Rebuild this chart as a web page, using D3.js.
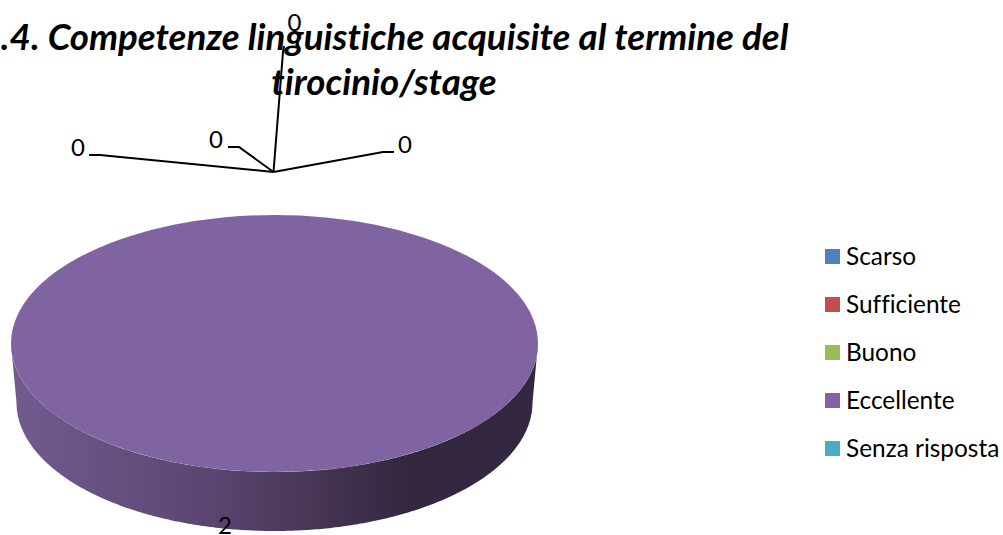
<!DOCTYPE html>
<html>
<head>
<meta charset="utf-8">
<script src="https://cdn.jsdelivr.net/npm/d3@7"></script>
<style>
  html, body { margin: 0; padding: 0; background: #fff; overflow: hidden; }
  text { font-family: Lato, "Open Sans", sans-serif; fill: #000; font-variant-ligatures: none; }
</style>
</head>
<body>
<svg id="chart"></svg>
<script>
const categories = ["Scarso", "Sufficiente", "Buono", "Eccellente", "Senza risposta"];
const values = [0, 0, 0, 2, 0];
const colors = ["#4f81bd", "#c0504d", "#9bbb59", "#8064a2", "#4bacc6"];
const titleLines = ["1.4. Competenze linguistiche acquisite al termine del", "tirocinio/stage"];

const svgObj = { width: 1003, height: 535 };
const pieObj = { cx: 274.5, cy: 343.5, rx: 263.5, ry: 128.5, depth: 59, bottomRx: 258 };

const svg = d3.select("#chart")
  .attr("width", svgObj.width)
  .attr("height", svgObj.height)
  .style("display", "block");

const defs = svg.append("defs");
const sideGradient = defs.append("linearGradient")
  .attr("id", "side-gradient")
  .attr("gradientUnits", "userSpaceOnUse")
  .attr("x1", pieObj.cx - pieObj.rx)
  .attr("x2", pieObj.cx + pieObj.rx)
  .attr("y1", 0)
  .attr("y2", 0);
sideGradient.append("stop").attr("offset", "0%").attr("stop-color", "#735a90");
sideGradient.append("stop").attr("offset", "35%").attr("stop-color", "#5c4773");
sideGradient.append("stop").attr("offset", "55%").attr("stop-color", "#4a3859");
sideGradient.append("stop").attr("offset", "75%").attr("stop-color", "#33283f");
sideGradient.append("stop").attr("offset", "100%").attr("stop-color", "#33283f");

// startAngle 0 is up, same as d3.arc
const pie = d3.pie().sort(null).value(d => d);
const slices = pie(values);

// front wall of the disc, only the lower half of each slice shows
const sideArea = d3.area()
  .x0(a => pieObj.cx + pieObj.rx * Math.sin(a))
  .x1(a => pieObj.cx + pieObj.bottomRx * Math.sin(a))
  .y0(a => pieObj.cy - pieObj.ry * Math.cos(a))
  .y1(a => pieObj.cy - pieObj.ry * Math.cos(a) + pieObj.depth);

slices.filter(d => d.value > 0).forEach((slice) => {
  const start = Math.max(slice.startAngle, Math.PI / 2);
  const end = Math.min(slice.endAngle, Math.PI * 1.5);
  svg.append("path")
    .attr("d", sideArea(d3.range(start, end + 0.001, 0.01)))
    .attr("fill", "url(#side-gradient)");
});

const arc = d3.arc().innerRadius(0).outerRadius(pieObj.rx);
svg.append("g")
  .attr("transform", `translate(${pieObj.cx}, ${pieObj.cy}) scale(1, ${pieObj.ry / pieObj.rx})`)
  .selectAll("path")
  .data(slices)
  .join("path")
  .attr("d", arc)
  .attr("fill", (d, i) => colors[i]);

// leader lines for the empty slices, hub sits above the disc
const leaderHub = [273.5, 172];
const leaders = [
  { index: 0, bend: [100, 155], end: [89, 155], label: [78, 156] },
  { index: 1, bend: [239, 147], end: [228, 147], label: [216, 148] },
  { index: 2, bend: [283, 52], end: [284, 46], label: [294.5, 31] },
  { index: 4, bend: [383, 152], end: [394, 152], label: [405, 153] },
];

const leaderLine = d3.line();
svg.selectAll(".leader")
  .data(leaders)
  .join("path")
  .attr("class", "leader")
  .attr("d", d => leaderLine([leaderHub, d.bend, d.end]))
  .attr("fill", "none")
  .attr("stroke", "#000")
  .attr("stroke-width", 2);

svg.selectAll(".title-line")
  .data(titleLines)
  .join("text")
  .attr("class", "title-line")
  .attr("x", 384)
  .attr("y", (d, i) => 50 + i * 45)
  .attr("text-anchor", "middle")
  .attr("font-size", 36.7)
  .attr("font-weight", 700)
  .attr("font-style", "italic")
  .text(d => d);

svg.selectAll(".data-label")
  .data(leaders)
  .join("text")
  .attr("class", "data-label")
  .attr("x", d => d.label[0])
  .attr("y", d => d.label[1])
  .attr("text-anchor", "middle")
  .attr("font-size", 24)
  .text(d => values[d.index]);

svg.append("text")
  .attr("x", 225)
  .attr("y", 534)
  .attr("text-anchor", "middle")
  .attr("font-size", 24)
  .text(values[3]);

const legendY = d3.scalePoint().domain(categories).range([256.5, 448.5]);
const legend = svg.selectAll(".legend-item")
  .data(categories)
  .join("g")
  .attr("class", "legend-item")
  .attr("transform", d => `translate(825, ${legendY(d)})`);
legend.append("rect")
  .attr("y", -7.5)
  .attr("width", 15)
  .attr("height", 15)
  .attr("fill", (d, i) => colors[i]);
legend.append("text")
  .attr("x", 21)
  .attr("y", 8)
  .attr("font-size", 24.4)
  .text(d => d);
</script>
</body>
</html>
